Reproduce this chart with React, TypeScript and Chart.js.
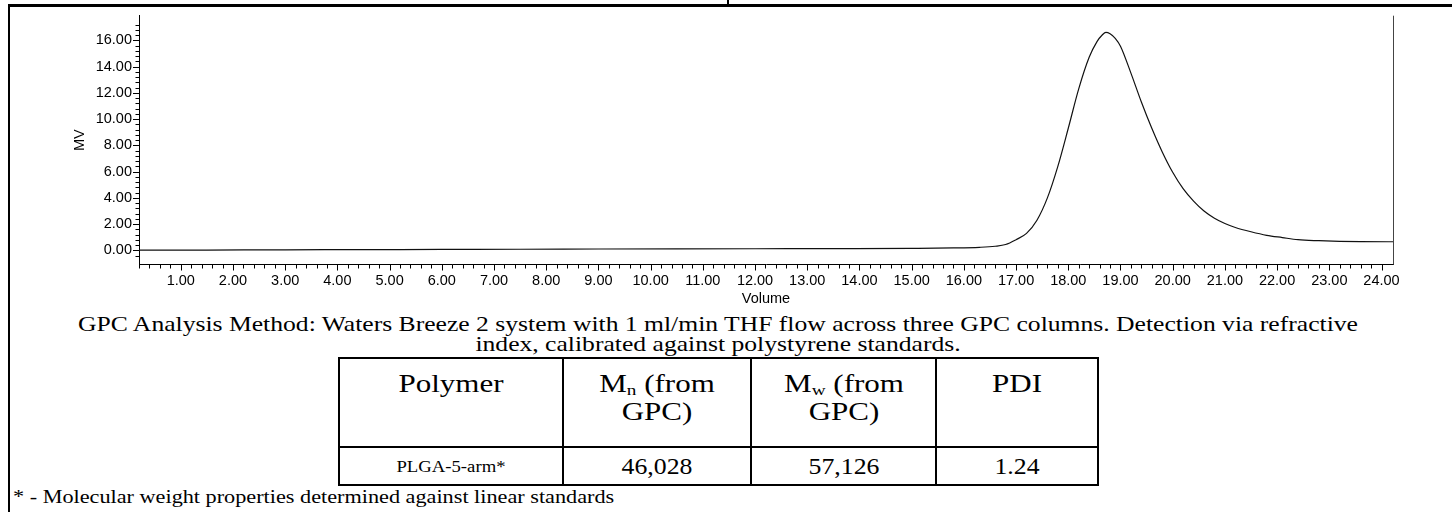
import React, { useEffect, useRef } from "react";
import { Chart, registerables } from "chart.js";

Chart.register(...registerables);

// ---- data ----
const volume = [0.2, 1.5, 3.0, 4.5, 6.0, 7.5, 9.0, 10.5, 12.0, 13.5, 15.0, 15.8, 16.3, 16.6, 16.8, 17.0, 17.2, 17.4, 17.6, 17.8, 18.0, 18.2, 18.4, 18.55, 18.65, 18.72, 18.8, 18.9, 19.0, 19.2, 19.4, 19.6, 19.8, 20.0, 20.2, 20.4, 20.6, 20.8, 21.0, 21.2, 21.5, 21.8, 22.1, 22.4, 22.8, 23.2, 23.6, 24.22];
const mv = [0.02, 0.03, 0.05, 0.06, 0.08, 0.09, 0.11, 0.12, 0.13, 0.14, 0.16, 0.19, 0.24, 0.32, 0.45, 0.82, 1.3, 2.3, 4.0, 6.4, 9.3, 12.3, 14.7, 15.9, 16.4, 16.6, 16.5, 16.15, 15.55, 13.5, 11.3, 9.3, 7.5, 5.95, 4.7, 3.75, 3.0, 2.45, 2.05, 1.75, 1.42, 1.15, 0.98, 0.82, 0.74, 0.69, 0.67, 0.66];

const xLabelValues = [1, 2, 3, 4, 5, 6, 7, 8, 9, 10, 11, 12, 13, 14, 15, 16, 17, 18, 19, 20, 21, 22, 23, 24];
const yLabelValues = [0, 2, 4, 6, 8, 10, 12, 14, 16];
const xMinorStep = 0.2;
const yMinorStep = 0.4;

const tableHeader = ["Polymer", "Mn (from GPC)", "Mw (from GPC)", "PDI"];
const tableRow = ["PLGA-5-arm*", "46,028", "57,126", "1.24"];

const captionLine1 = "GPC Analysis Method: Waters Breeze 2 system with 1 ml/min THF flow across three GPC columns. Detection via refractive";
const captionLine2 = "index, calibrated against polystyrene standards.";
const footnote = "* - Molecular weight properties determined against linear standards";

const near = (v: number, list: number[]) => list.some((l) => Math.abs(l - v) < 1e-6);
const onStep = (v: number, s: number) => Math.abs(v / s - Math.round(v / s)) < 1e-6;

const SERIF = '"Liberation Serif", "Times New Roman", serif';

function Txt(props: { x: number; baseline: number; size: number; sx?: number; align?: "center" | "left"; children: React.ReactNode }) {
  const { x, baseline, size, sx = 1.22, align = "center", children } = props;
  const style: React.CSSProperties = {
    position: "absolute",
    left: x,
    top: baseline - 0.8375 * size,
    fontFamily: SERIF,
    fontSize: size,
    lineHeight: 1,
    whiteSpace: "nowrap",
    color: "#000",
    transform: align === "center" ? `translateX(-50%) scaleX(${sx})` : `scaleX(${sx})`,
    transformOrigin: align === "center" ? "50% 0" : "0 0",
  };
  return <div style={style}>{children}</div>;
}

const tickPlugin = {
  id: "gpcTicks",
  afterDraw(chart: any) {
    const { ctx, chartArea, scales } = chart;
    const xs = scales.x;
    const ys = scales.y;
    ctx.save();
    ctx.strokeStyle = "#000";
    ctx.lineWidth = 1;
    ctx.beginPath();
    xs.ticks.forEach((t: any) => {
      const p = Math.round(xs.getPixelForValue(t.value)) + 0.5;
      const major = near(t.value, xLabelValues);
      ctx.moveTo(p, chartArea.bottom);
      ctx.lineTo(p, chartArea.bottom + (major ? 6 : 4));
    });
    ys.ticks.forEach((t: any) => {
      const p = Math.round(ys.getPixelForValue(t.value)) + 0.5;
      const major = near(t.value, yLabelValues);
      ctx.moveTo(chartArea.left, p);
      ctx.lineTo(chartArea.left - (major ? 6 : 3.5), p);
    });
    ctx.stroke();
    ctx.strokeStyle = "#444";
    ctx.beginPath();
    ctx.moveTo(Math.round(chartArea.right) + 0.5, chartArea.top);
    ctx.lineTo(Math.round(chartArea.right) + 0.5, chartArea.bottom);
    ctx.stroke();
    ctx.restore();
  },
};

const CANVAS_W = 1452;
const CANVAS_H = 312;

export default function App() {
  const ref = useRef<HTMLCanvasElement | null>(null);

  useEffect(() => {
    if (!ref.current) return;
    const font = { family: '"Liberation Sans", Arial, sans-serif', size: 14.5 };
    const chart = new Chart(ref.current, {
      type: "line",
      data: {
        datasets: [
          {
            data: volume.map((v, i) => ({ x: v, y: mv[i] })),
            borderColor: "#111",
            borderWidth: 1.2,
            pointRadius: 0,
            fill: false,
            cubicInterpolationMode: "monotone",
          },
        ],
      },
      options: {
        animation: false,
        responsive: false,
        devicePixelRatio: 1,
        layout: { padding: { left: 0, right: 59, top: 7, bottom: 0 } },
        plugins: { legend: { display: false }, tooltip: { enabled: false } },
        scales: {
          x: {
            type: "linear",
            min: 0.2,
            max: 24.22,
            afterBuildTicks: (s: any) => {
              s.ticks = s.ticks.filter((t: any) => onStep(t.value, xMinorStep));
            },
            afterFit: (s: any) => {
              s.height = CANVAS_H - 264.5;
            },
            ticks: {
              stepSize: xMinorStep,
              autoSkip: false,
              maxRotation: 0,
              padding: 8,
              color: "#000",
              font,
              callback: (v: any) => (near(Number(v), xLabelValues) ? Number(v).toFixed(2) : ""),
            },
            grid: { display: false, drawTicks: false },
            border: { display: true, color: "#000", width: 1 },
            title: { display: true, text: "Volume", color: "#000", font, padding: { top: 0, bottom: 4 } },
          },
          y: {
            type: "linear",
            min: -1.07,
            max: 17.87,
            afterBuildTicks: (s: any) => {
              s.ticks = s.ticks.filter((t: any) => onStep(t.value, yMinorStep));
            },
            afterFit: (s: any) => {
              s.width = 139;
            },
            ticks: {
              stepSize: yMinorStep,
              autoSkip: false,
              padding: 7,
              color: "#000",
              font,
              callback: (v: any) => (near(Number(v), yLabelValues) ? Number(v).toFixed(2) : ""),
            },
            grid: { display: false, drawTicks: false },
            border: { display: true, color: "#000", width: 1 },
            title: { display: true, text: "MV", color: "#000", font, padding: { top: 71.3, bottom: 0 } },
          },
        },
      },
      plugins: [tickPlugin],
    } as any);
    return () => chart.destroy();
  }, []);

  const T = { left: 338, c1: 562, c2: 750, c3: 935, right: 1097, top: 357, sep: 446, bottom: 484 };
  const line = (style: React.CSSProperties) => <div style={{ position: "absolute", background: "#000", ...style }} />;
  const mid = (a: number, b: number) => (a + b) / 2 + 1;
  const CX = 718;
  const sub = { fontSize: "0.62em", verticalAlign: "-0.2em" } as React.CSSProperties;

  return (
    <div style={{ position: "fixed", left: 0, top: 0, width: 1452, height: 512, background: "#fff", overflow: "hidden" }}>
      {/* document borders */}
      {line({ left: 8, top: 4, width: 1444, height: 3 })}
      {line({ left: 8, top: 4, width: 2, height: 508 })}
      {line({ left: 727, top: 0, width: 1.5, height: 4 })}

      <canvas ref={ref} width={CANVAS_W} height={CANVAS_H} style={{ position: "absolute", left: 0, top: 0, width: CANVAS_W, height: CANVAS_H }} />

      <Txt x={CX} baseline={332} size={21}>{captionLine1}</Txt>
      <Txt x={CX} baseline={352} size={21}>{captionLine2}</Txt>

      {/* table */}
      {line({ left: T.left, top: T.top, width: T.right - T.left + 2, height: 2 })}
      {line({ left: T.left, top: T.sep, width: T.right - T.left + 2, height: 2 })}
      {line({ left: T.left, top: T.bottom, width: T.right - T.left + 2, height: 2 })}
      {[T.left, T.c1, T.c2, T.c3, T.right].map((x, i) => (
        <React.Fragment key={i}>{line({ left: x, top: T.top, width: 2, height: T.bottom - T.top + 2 })}</React.Fragment>
      ))}

      <Txt x={mid(T.left, T.c1)} baseline={392} size={25} sx={1.24}>{tableHeader[0]}</Txt>
      <Txt x={mid(T.c1, T.c2)} baseline={392} size={25} sx={1.24}>
        M<sub style={sub}>n</sub> (from
      </Txt>
      <Txt x={mid(T.c1, T.c2)} baseline={420} size={25} sx={1.24}>GPC)</Txt>
      <Txt x={mid(T.c2, T.c3)} baseline={392} size={25} sx={1.24}>
        M<sub style={sub}>w</sub> (from
      </Txt>
      <Txt x={mid(T.c2, T.c3)} baseline={420} size={25} sx={1.24}>GPC)</Txt>
      <Txt x={mid(T.c3, T.right)} baseline={392} size={25} sx={1.24}>{tableHeader[3]}</Txt>

      <Txt x={mid(T.left, T.c1)} baseline={472} size={17} sx={1.1}>{tableRow[0]}</Txt>
      <Txt x={mid(T.c1, T.c2)} baseline={474} size={23} sx={1.12}>{tableRow[1]}</Txt>
      <Txt x={mid(T.c2, T.c3)} baseline={474} size={23} sx={1.12}>{tableRow[2]}</Txt>
      <Txt x={mid(T.c3, T.right)} baseline={474} size={23} sx={1.12}>{tableRow[3]}</Txt>

      <Txt x={13} baseline={503} size={19} sx={1.17} align="left">{footnote}</Txt>
    </div>
  );
}
